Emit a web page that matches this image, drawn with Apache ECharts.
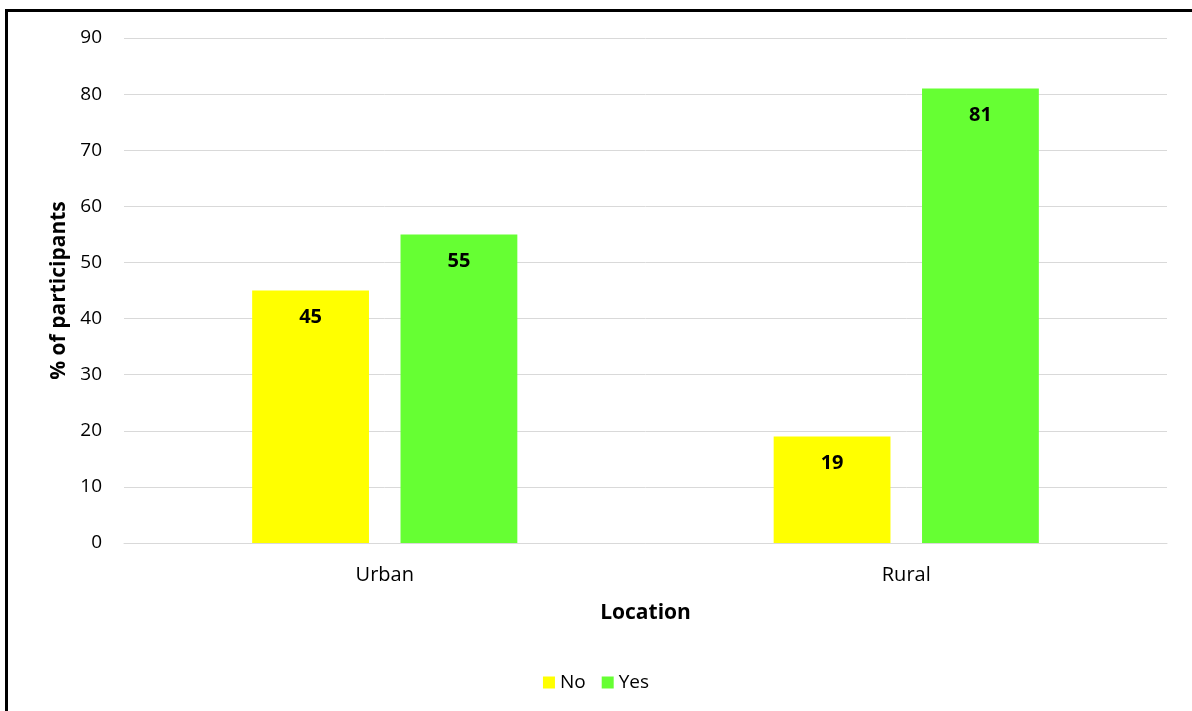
<!DOCTYPE html>
<html><head><meta charset="utf-8">
<script src="https://cdn.jsdelivr.net/npm/echarts@6/dist/echarts.min.js"></script>
<style>
html,body{margin:0;padding:0;background:#fff;}
#frame{position:absolute;left:5px;top:9px;width:1200px;height:720px;border-left:3px solid #000;border-top:3px solid #000;}
#c{position:absolute;left:0;top:0;width:1192px;height:711px;}
</style></head>
<body>
<div id="frame"></div>
<div id="c"></div>
<script>
const categories = ['Urban', 'Rural'];
const seriesNames = ['No', 'Yes'];
const noValues = [45, 19];
const yesValues = [55, 81];
const colors = ['#ffff00', '#66ff33'];

const FONT = '"Open Sans", "Liberation Sans", sans-serif';
const chart = echarts.init(document.getElementById('c'), null, {renderer: 'canvas'});
const label = {show: true, position: 'insideTop', distance: 17, color: '#000', fontWeight: 'bold', fontSize: 20, fontFamily: FONT};
chart.setOption({
  animation: false,
  textStyle: {fontFamily: FONT},
  grid: {left: 124, right: 25, top: 38, bottom: 168, containLabel: false},
  legend: {
    data: seriesNames, top: 668, left: 'center', itemWidth: 12, itemHeight: 12, itemGap: 16,
    icon: 'rect', textStyle: {fontSize: 19, color: '#000', fontFamily: FONT}
  },
  xAxis: {
    type: 'category', data: categories,
    name: 'Location', nameLocation: 'middle', nameGap: 60,
    nameTextStyle: {fontSize: 21, fontWeight: 'bold', color: '#000', fontFamily: FONT},
    axisLine: {lineStyle: {color: '#d9d9d9', width: 1}},
    axisTick: {show: false},
    axisLabel: {fontSize: 20, color: '#000', margin: 22, fontFamily: FONT}
  },
  yAxis: {
    type: 'value', min: 0, max: 90, interval: 10,
    name: '% of participants', nameLocation: 'middle', nameGap: 54, nameRotate: 90,
    nameTextStyle: {fontSize: 21, fontWeight: 'bold', color: '#000', fontFamily: FONT},
    axisLine: {show: false}, axisTick: {show: false},
    axisLabel: {fontSize: 19, color: '#000', margin: 22, fontFamily: FONT},
    splitLine: {lineStyle: {color: '#d9d9d9', width: 1}}
  },
  series: [
    {name: seriesNames[0], type: 'bar', data: noValues, itemStyle: {color: colors[0]}, barWidth: '22.4%', barGap: '27%', label: label},
    {name: seriesNames[1], type: 'bar', data: yesValues, itemStyle: {color: colors[1]}, barWidth: '22.4%', barGap: '27%', label: label}
  ]
});
</script>
</body></html>
